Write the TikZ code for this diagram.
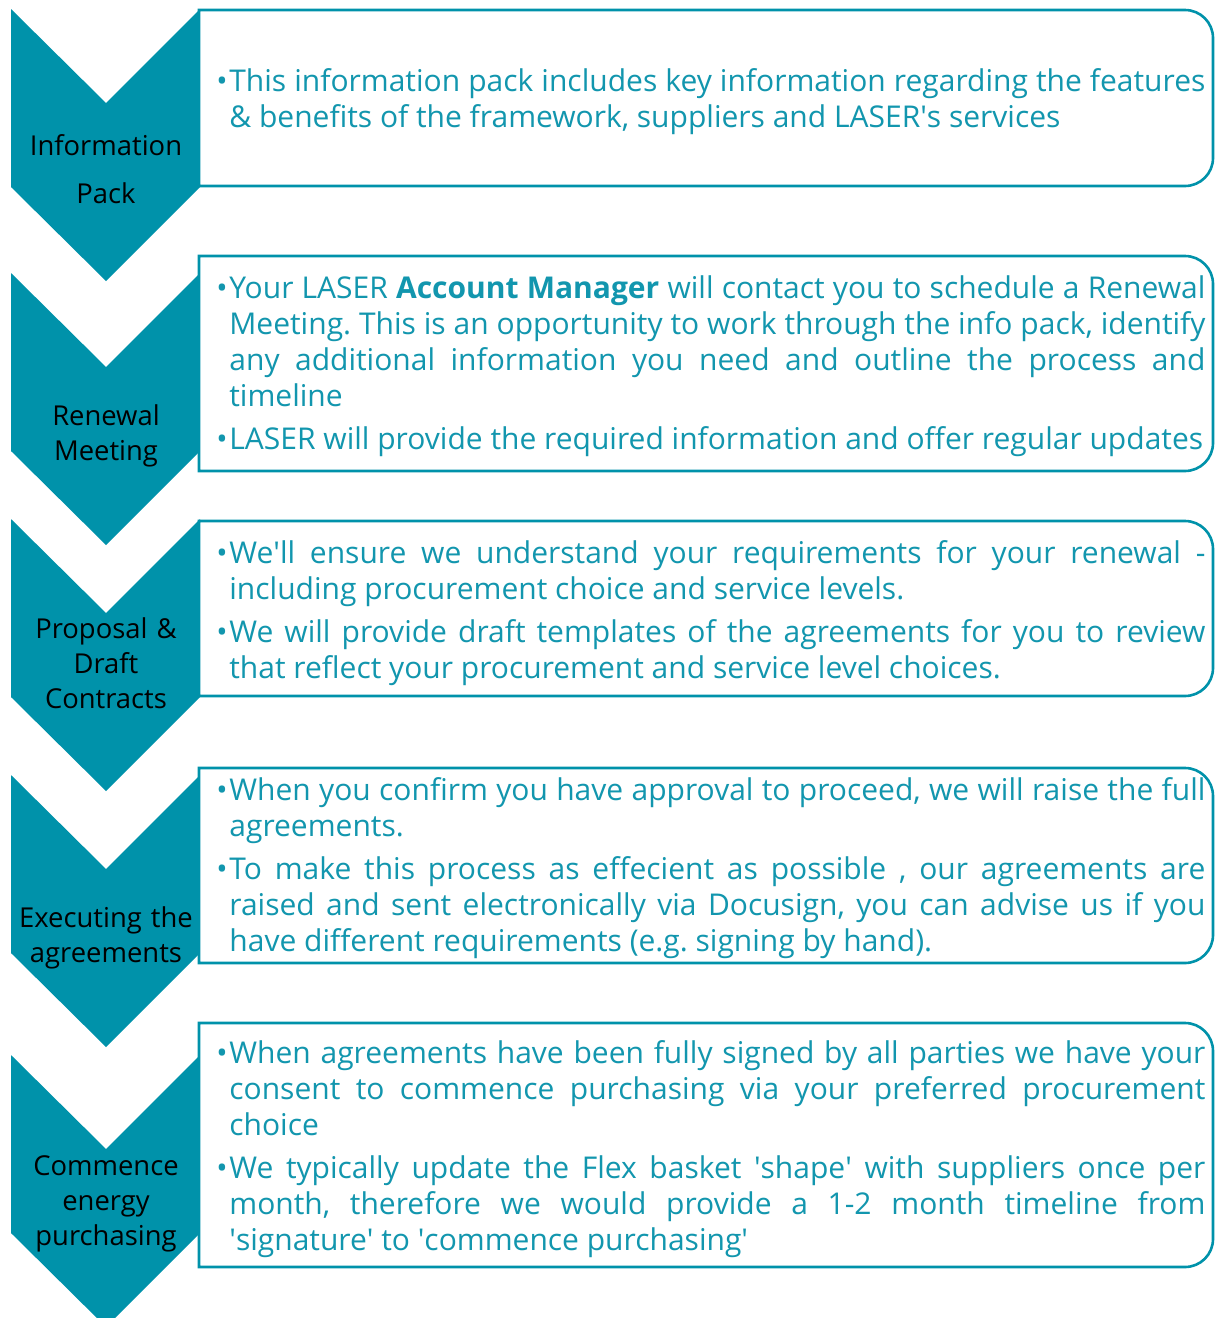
\documentclass[tikz,border=0pt]{standalone}
\usepackage{fontspec}
\setmainfont{Open Sans}
\definecolor{laserteal}{RGB}{0,146,170}
\definecolor{lasertext}{RGB}{18,150,174}
\newcommand{\bul}{\noindent\hangindent=6.5pt\hangafter=1\makebox[6.5pt][l]{\textbullet}}
\newcommand{\sq}{\textquotesingle}

\begin{document}
\begin{tikzpicture}[x=0.5pt, y=-0.5pt,
	chev/.style={fill=laserteal},
	panel/.style={draw=laserteal, line width=1.3pt, fill=white},
	stage/.style={anchor=base, text width=120pt, align=center, inner sep=0pt, font=\fontsize{13.7}{17.5}\selectfont},
	info/.style={anchor=base west, text width=494.5pt, align=justify, inner sep=0pt, text=lasertext, font=\fontsize{15}{18}\selectfont,
		execute at begin node={\setlength{\parskip}{3.5pt}\frenchspacing\hyphenpenalty=10000\tolerance=10000}}]
	\useasboundingbox (0,0) rectangle (1215,1318);

	\foreach \t in {9,273,519,775,1055}
		\fill[chev] (11,\t) -- (106,\t+94) -- (200,\t) -- (200,\t+178) -- (106,\t+272) -- (11,\t+178) -- cycle;

	\foreach \t/\b in {10/186, 256/471, 521/696, 768/963, 1023/1267}
		\draw[panel] (199,\t) -- (1185,\t) arc[start angle=-90, end angle=0, radius=28] -- (1213,\b-28) arc[start angle=0, end angle=90, radius=28] -- (199,\b) -- cycle;

	\node[stage] (s1)at(106,155) {Information\\[6.5pt]Pack};
	\node[stage] (s2)at(106,425) {Renewal\\Meeting};
	\node[stage] (s3)at(106,638) {Proposal \&\\Draft\\Contracts};
	\node[stage] (s4)at(106,927) {Executing the\\agreements};
	\node[stage] (s5)at(106,1175) {Commence\\energy\\purchasing};

	\node[info] (t1)at(216,91) {\bul This information pack includes key information regarding the features\linebreak \& benefits of the framework, suppliers and LASER\sq s services\par};
	\node[info] (t2)at(216,298) {\bul Your LASER \textbf{Account Manager} will contact you to schedule a Renewal\linebreak Meeting. This is an opportunity to work through the info pack, identify\linebreak any additional information you need and outline the process and\linebreak timeline\par\bul LASER will provide the required information and offer regular updates\par};
	\node[info] (t3)at(216,563) {\bul We\sq ll ensure we understand your requirements for your renewal -\linebreak including procurement choice and service levels.\par\bul We will provide draft templates of the agreements for you to review\linebreak that reflect your procurement and service level choices.\par};
	\node[info] (t4)at(216,800) {\bul When you confirm you have approval to proceed, we will raise the full\linebreak agreements.\par\bul To make this process as effecient as possible , our agreements are\linebreak raised and sent electronically via Docusign, you can advise us if you\linebreak have different requirements (e.g. signing by hand).\par};
	\node[info] (t5)at(216,1063) {\bul When agreements have been fully signed by all parties we have your\linebreak consent to commence purchasing via your preferred procurement\linebreak choice\par\bul We typically update the Flex basket \sq shape\sq{} with suppliers once per\linebreak month, therefore we would provide a 1-2 month timeline from\linebreak \sq signature\sq{} to \sq commence purchasing\sq\par};
\end{tikzpicture}
\end{document}
